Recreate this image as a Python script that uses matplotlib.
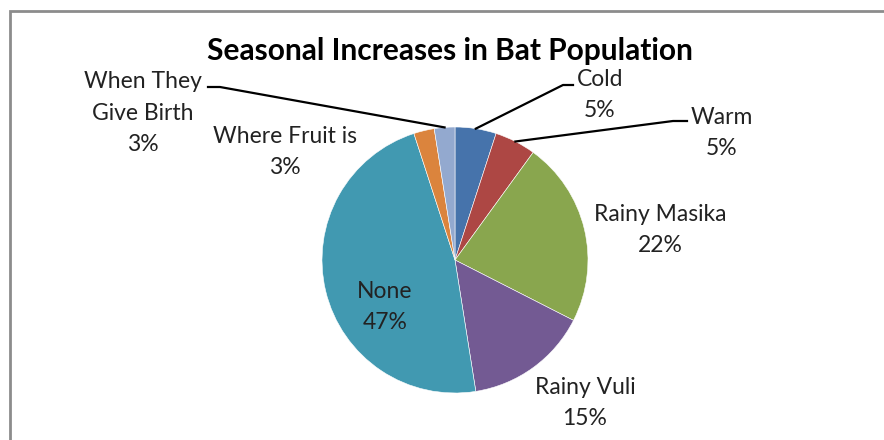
import numpy as np
import matplotlib
matplotlib.use("Agg")
import matplotlib.pyplot as plt
from matplotlib.patches import Rectangle

# data (survey counts, labels as shown on the chart)
categories = ["Cold", "Warm", "Rainy Masika", "Rainy Vuli", "None",
              "Where Fruit is", "When They\nGive Birth"]
counts = [2, 2, 9, 6, 19, 1, 1]
pct_labels = ["5%", "5%", "22%", "15%", "47%", "3%", "3%"]
colors = ["#4673AB", "#AD4744", "#89A64E", "#735A93", "#4199B1", "#DB843D", "#93A9CF"]

plt.rcParams['font.family'] = ['Lato', 'DejaVu Sans']

W, H = 884, 440
fig = plt.figure(figsize=(W / 100, H / 100), dpi=100)
ax = fig.add_axes([0, 0, 1, 1])

cx, cy, r = 455, H - 260, 133
wedges, _ = ax.pie(counts, colors=colors, startangle=90, counterclock=False,
                   center=(cx, cy), radius=r, frame=True,
                   wedgeprops=dict(edgecolor="white", linewidth=0.4))
ax.set_xlim(0, W)
ax.set_ylim(0, H)
ax.axis("off")

# label block centres (pixels from top) and leader elbows
label_pos = {
    "Cold": (600, 95),
    "Warm": (722, 133),
    "Rainy Masika": (660, 230),
    "Rainy Vuli": (585, 403),
    "None": (385, 307),
    "Where Fruit is": (285, 152),
    "When They\nGive Birth": (143, 113),
}
leaders = {
    "Cold": [(563, 85), (573, 85)],
    "Warm": [(673, 121), (687, 121)],
    "When They\nGive Birth": [(220, 87), (208, 87)],
}

for w, cat, pl in zip(wedges, categories, pct_labels):
    x, y = label_pos[cat]
    ax.text(x, H - y, cat + "\n" + pl, ha="center", va="center",
            fontsize=16.5, color="#222222", linespacing=1.6)
    if cat in leaders:
        mid = np.deg2rad((w.theta1 + w.theta2) / 2)
        sx = cx + r * np.cos(mid)
        sy = cy + r * np.sin(mid)
        pts = [(sx, sy)] + [(px, H - py) for px, py in leaders[cat]]
        ax.plot([p[0] for p in pts], [p[1] for p in pts], color="black", lw=1.6)

ax.text(450, H - 51, "Seasonal Increases in Bat Population", ha="center", va="center",
        fontsize=21.5, fontweight="bold", color="black")

ax.add_patch(Rectangle((9.5, -20), W + 20, H - 10.5 + 20, fill=False,
                       edgecolor="#8c8c8c", lw=2, clip_on=False))

fig.savefig("out.png", dpi=100)
